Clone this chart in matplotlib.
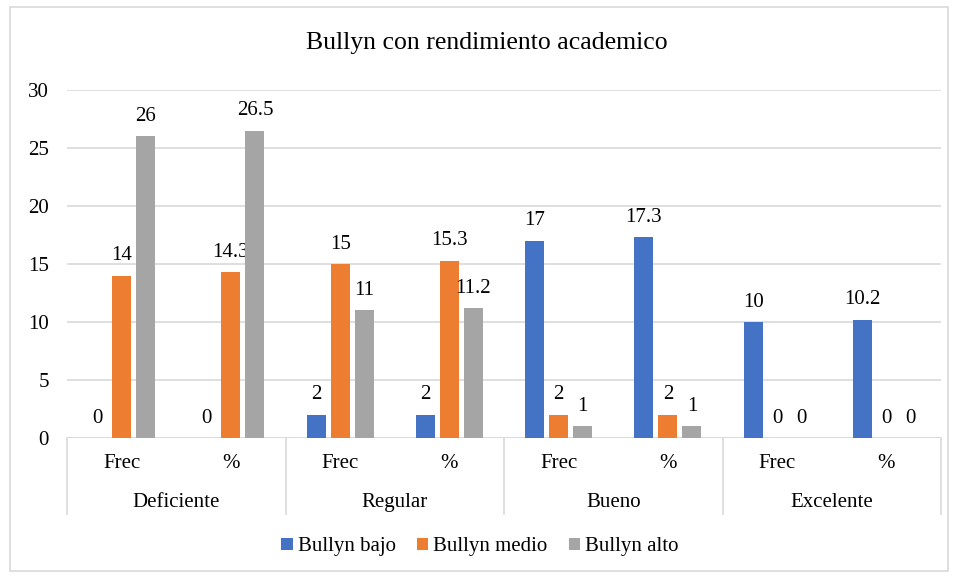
import numpy as np
import matplotlib.pyplot as plt
from matplotlib.patches import Rectangle

plt.rcParams['font.family'] = ['Liberation Serif', 'DejaVu Serif']

# data
grupos = ["Deficiente", "Regular", "Bueno", "Excelente"]
subcat = ["Frec", "%"]
series = ["Bullyn bajo", "Bullyn medio", "Bullyn alto"]
bajo = [0, 0, 2, 2, 17, 17.3, 10, 10.2]
medio = [14, 14.3, 15, 15.3, 2, 2, 0, 0]
alto = [26, 26.5, 11, 11.2, 1, 1, 0, 0]
colores = ["#4472C4", "#ED7D31", "#A5A5A5"]

fig = plt.figure(figsize=(9.58, 5.78), dpi=100)
ax = fig.add_axes([67/958, 1-438/578, 874/958, 348/578])

x = np.arange(len(bajo))
w = 0.174
off = 0.22
for i, (vals, c, lab) in enumerate(zip([bajo, medio, alto], colores, series)):
    pos = x + (i-1)*off
    ax.bar(pos, vals, width=w, color=c, label=lab, zorder=3)
    for p, v in zip(pos, vals):
        ax.annotate("%g" % v, (p, v), xytext=(0, 7.5), textcoords="offset points",
                    ha="center", va="bottom", fontsize=15)

ax.set_xlim(-0.5, len(bajo)-0.5)
ax.set_ylim(0, 30)
ax.set_yticks(range(0, 31, 5))
ax.tick_params(axis="y", length=0, pad=13, labelsize=15)
ax.set_xticks([])
ax.grid(axis="y", color="#d9d9d9", lw=1.2, zorder=0)
for s in ax.spines.values():
    s.set_visible(False)
ax.axhline(0, color="#d9d9d9", lw=1.2, zorder=2)

# two level category axis
tr = ax.get_xaxis_transform()
for k in range(len(grupos)+1):
    xs = k*2 - 0.5
    ax.plot([xs, xs], [0, -0.218], transform=tr, color="#d9d9d9", lw=1.2, clip_on=False)
for j in range(len(bajo)):
    ax.text(j, -0.072, subcat[j % 2], transform=tr, ha="center", va="center", fontsize=15)
for k, g in enumerate(grupos):
    ax.text(k*2+0.5, -0.184, g, transform=tr, ha="center", va="center", fontsize=15)

fig.text(487/958, 1-43/578, "Bullyn con rendimiento academico", fontsize=18.5,
         ha="center", va="center")

ax.legend(loc="center", bbox_to_anchor=(480/958, 1-547/578), bbox_transform=fig.transFigure,
          ncol=3, frameon=False, fontsize=15, handlelength=0.55, handleheight=0.55,
          handletextpad=0.25, columnspacing=1.0)

fig.patches.append(Rectangle((10/958, 1-571/578), 938/958, 564/578, transform=fig.transFigure,
                             fill=False, edgecolor="#d9d9d9", lw=1.2))

plt.savefig("out.png", dpi=100)
